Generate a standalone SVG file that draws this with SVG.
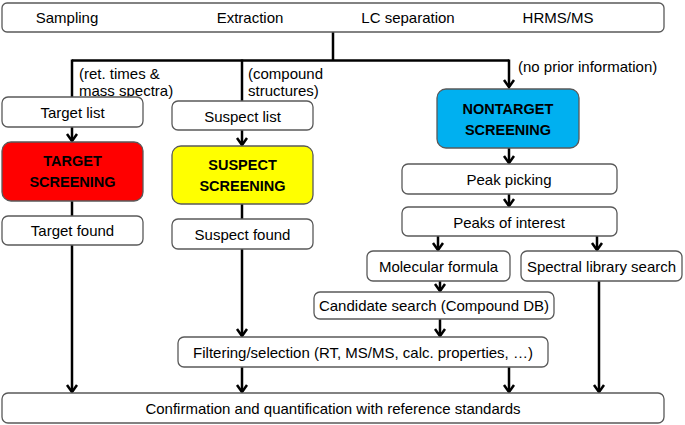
<svg xmlns="http://www.w3.org/2000/svg" width="685" height="425" viewBox="0 0 685 425">
<style>
.box{fill:#fff;stroke:#595959;stroke-width:1.3}
.t{font-family:"Liberation Sans",Arial,sans-serif;font-size:15px;fill:#000;text-anchor:middle;dominant-baseline:central}
.l{font-family:"Liberation Sans",Arial,sans-serif;font-size:15px;fill:#000;dominant-baseline:central}
.b{font-family:"Liberation Sans",Arial,sans-serif;font-size:14.5px;font-weight:bold;fill:#000;text-anchor:middle;dominant-baseline:central}
.c{fill:none;stroke:#000;stroke-width:2.5}
.a{marker-end:url(#arr)}
</style>
<defs>
<marker id="arr" markerUnits="userSpaceOnUse" orient="auto" refX="0" refY="0" overflow="visible">
<path d="M-7,-5 L0,0 L-7,5" fill="none" stroke="#000" stroke-width="2.5"/>
</marker>
</defs>
<g id="connectors">
<path class="c" d="M333,32 V60.5"/>
<path class="c" d="M72,60.5 H509"/>
<path class="c" d="M72,59.5 V97"/>
<path class="c" d="M242,59.5 V101"/>
<path class="c a" d="M509,59.5 V87"/>
<path class="c a" d="M72,127 V141"/>
<path class="c" d="M72,201 V216"/>
<path class="c a" d="M72,245 V392"/>
<path class="c a" d="M242,130 V145"/>
<path class="c" d="M242,204 V219"/>
<path class="c a" d="M242,249 V336"/>
<path class="c a" d="M509,148 V163"/>
<path class="c a" d="M509,194 V206"/>
<path class="c a" d="M438,236 V250"/>
<path class="c a" d="M597,236 V250"/>
<path class="c a" d="M440,281 V291"/>
<path class="c a" d="M440,319 V336"/>
<path class="c a" d="M242,367 V392"/>
<path class="c a" d="M509,367 V392"/>
<path class="c a" d="M599,281 V392"/>
</g>
<g id="workflow">
<rect class="box" x="2" y="3" width="662" height="29" rx="5"/>
<text class="t" x="67" y="17">Sampling</text>
<text class="t" x="250" y="17">Extraction</text>
<text class="t" x="408" y="17">LC separation</text>
<text class="t" x="558" y="17">HRMS/MS</text>
</g>
<g id="labels">
<text class="l" x="79" y="73">(ret. times &amp;</text>
<text class="l" x="79" y="90">mass spectra)</text>
<text class="l" x="248" y="73">(compound</text>
<text class="l" x="248" y="90">structures)</text>
<text class="l" x="518" y="66">(no prior information)</text>
</g>
<g id="target-list"><rect class="box" x="2" y="97" width="141" height="30" rx="6"/><text class="t" x="72.5" y="112.5">Target list</text></g>
<g id="target-screening"><rect x="2" y="142" width="141" height="59" rx="9" fill="#ff0000" stroke="#595959" stroke-width="1.3"/><text class="b" x="72.5" y="161">TARGET</text><text class="b" x="72.5" y="182">SCREENING</text></g>
<g id="target-found"><rect class="box" x="2" y="216" width="141" height="29" rx="6"/><text class="t" x="72.5" y="230.5">Target found</text></g>
<g id="suspect-list"><rect class="box" x="172" y="101" width="141" height="29" rx="6"/><text class="t" x="242.5" y="116">Suspect list</text></g>
<g id="suspect-screening"><rect x="172" y="146" width="141" height="58" rx="9" fill="#ffff00" stroke="#595959" stroke-width="1.3"/><text class="b" x="242.5" y="165">SUSPECT</text><text class="b" x="242.5" y="186">SCREENING</text></g>
<g id="suspect-found"><rect class="box" x="172" y="219" width="141" height="30" rx="6"/><text class="t" x="242.5" y="234">Suspect found</text></g>
<g id="nontarget-screening"><rect x="437" y="89" width="142" height="59" rx="9" fill="#00b0f0" stroke="#595959" stroke-width="1.3"/><text class="b" x="508" y="109">NONTARGET</text><text class="b" x="508" y="130">SCREENING</text></g>
<g id="peak-picking"><rect class="box" x="402" y="164" width="215" height="30" rx="6"/><text class="t" x="509" y="179.5">Peak picking</text></g>
<g id="peaks-of-interest"><rect class="box" x="402" y="207" width="215" height="29" rx="6"/><text class="t" x="509" y="222">Peaks of interest</text></g>
<g id="molecular-formula"><rect class="box" x="367" y="251" width="143" height="30" rx="6"/><text class="t" x="438.5" y="266">Molecular formula</text></g>
<g id="spectral-library-search"><rect class="box" x="521" y="251" width="161" height="30" rx="6"/><text class="t" x="601.5" y="266">Spectral library search</text></g>
<g id="candidate-search"><rect class="box" x="314" y="292" width="240" height="27" rx="6"/><text class="t" x="434" y="305.5">Candidate search (Compound DB)</text></g>
<g id="filtering"><rect class="box" x="178" y="337" width="370" height="30" rx="6"/><text class="t" x="363" y="352.5">Filtering/selection (RT, MS/MS, calc. properties, …)</text></g>
<g id="confirmation"><rect class="box" x="2" y="393" width="662" height="30" rx="6"/><text class="t" x="333" y="408.5">Confirmation and quantification with reference standards</text></g>
</svg>
